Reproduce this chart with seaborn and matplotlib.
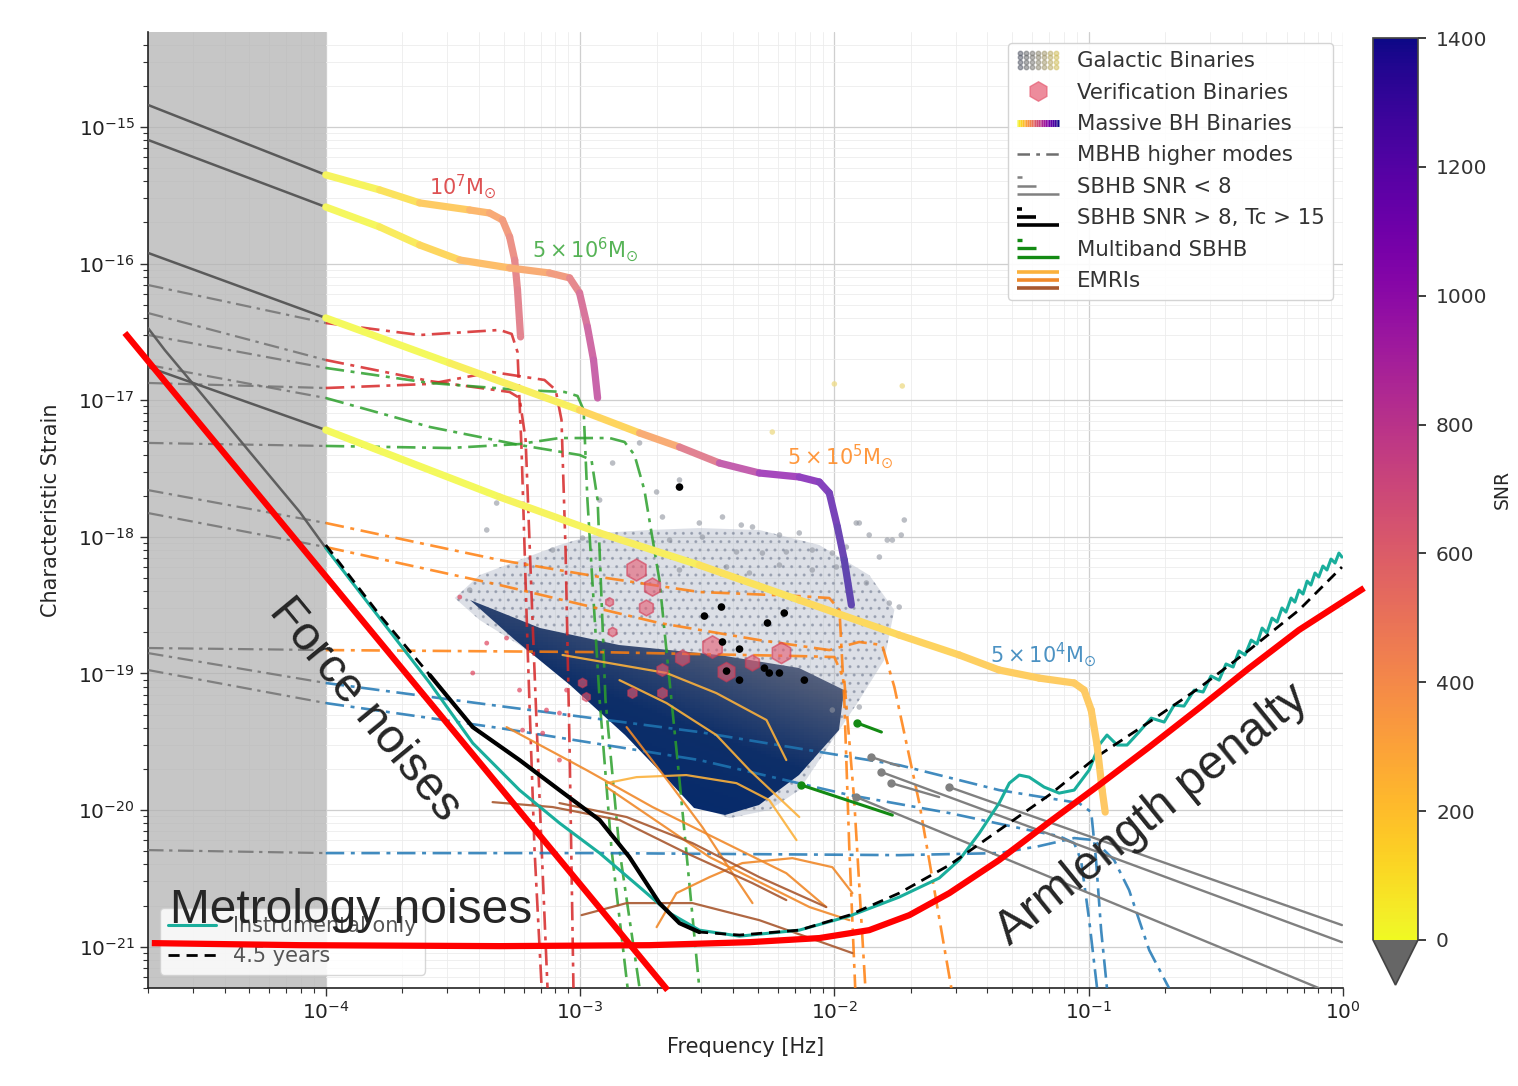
import numpy as np
import matplotlib
matplotlib.use("Agg")
import matplotlib.pyplot as plt
import matplotlib.patches as mpatches
import seaborn as sns
from matplotlib.collections import LineCollection
from matplotlib.colors import Normalize, LinearSegmentedColormap, ListedColormap
from matplotlib.legend_handler import HandlerBase
from matplotlib.lines import Line2D
from matplotlib.cm import ScalarMappable
from matplotlib.ticker import FixedLocator, LogLocator, NullFormatter

# ------------------------------------------------------------------
# Data: log10 frequency [Hz] (lf) and log10 characteristic strain (lh)
# ------------------------------------------------------------------
# Massive BH binaries (first segment lies in the shaded low-frequency band)
mbhb_a_lf = [-4.699, -4.0, -3.788, -3.631, -3.434, -3.356, -3.305, -3.277, -3.257, -3.246, -3.234]
mbhb_a_lh = [-14.839, -15.351, -15.461, -15.556, -15.608, -15.630, -15.681, -15.805, -15.974, -16.193, -16.537]
mbhb_a_snr = [0, 0, 60, 150, 280, 350, 420, 500, 560, 600, 620]

mbhb_b_lf = [-4.699, -4.0, -3.788, -3.631, -3.473, -3.277, -3.120, -3.041, -3.002, -2.971, -2.947, -2.931]
mbhb_b_lh = [-15.095, -15.586, -15.732, -15.864, -15.974, -16.032, -16.069, -16.105, -16.215, -16.464, -16.706, -16.984]
mbhb_b_snr = [0, 0, 40, 100, 220, 330, 420, 520, 650, 750, 800, 830]

mbhb_c_lf = [-4.699, -4.0, -3.513, -3.002, -2.766, -2.609, -2.452, -2.295, -2.138, -2.059, -2.020, -1.988, -1.961, -1.933]
mbhb_c_lh = [-15.922, -16.398, -16.728, -17.072, -17.240, -17.343, -17.460, -17.533, -17.562, -17.599, -17.679, -17.928, -18.170, -18.499]
mbhb_c_snr = [0, 0, 20, 80, 250, 500, 750, 950, 1080, 1150, 1200, 1270, 1320, 1350]

mbhb_d_lf = [-4.699, -4.0, -3.316, -2.923, -2.531, -2.138, -1.745, -1.509, -1.352, -1.195, -1.057, -1.018, -0.990, -0.967, -0.947, -0.935]
mbhb_d_lh = [-16.757, -17.218, -17.709, -17.972, -18.207, -18.463, -18.719, -18.865, -18.975, -19.034, -19.070, -19.122, -19.268, -19.524, -19.854, -20.015]
mbhb_d_snr = [0, 0, 15, 40, 80, 130, 170, 190, 200, 210, 215, 218, 220, 222, 224, 225]

# MBHB higher modes
hm_r1_lf = [-4.699, -4.0, -3.631, -3.316, -3.269, -3.246, -3.230, -3.206, -3.179, -3.151]
hm_r1_lh = [-16.157, -16.435, -16.523, -16.486, -16.515, -16.647, -17.365, -18.829, -20.293, -21.303]
hm_r2_lf = [-4.699, -4.0, -3.591, -3.277, -3.238, -3.214, -3.187, -3.159, -3.128]
hm_r2_lh = [-16.362, -16.706, -16.860, -16.940, -16.984, -17.291, -18.609, -19.927, -21.303]
hm_r3_lf = [-4.699, -4.0, -3.591, -3.344, -3.140, -3.096, -3.073, -3.057, -3.041, -3.026]
hm_r3_lh = [-16.874, -16.911, -16.881, -16.794, -16.852, -16.925, -17.145, -18.097, -19.561, -21.303]
hm_g1_lf = [-4.699, -4.0, -3.591, -3.238, -3.061, -3.010, -2.986, -2.971, -2.923, -2.876, -2.813]
hm_g1_lh = [-16.523, -16.764, -16.874, -16.925, -16.940, -16.969, -17.072, -17.731, -19.195, -20.293, -21.303]
hm_g2_lf = [-4.699, -4.0, -3.591, -3.238, -3.002, -2.955, -2.931, -2.900, -2.845, -2.766]
hm_g2_lh = [-16.742, -16.984, -17.196, -17.328, -17.401, -17.438, -17.731, -19.195, -20.293, -21.303]
hm_g3_lf = [-4.699, -4.0, -3.513, -3.238, -3.081, -2.884, -2.825, -2.786, -2.747, -2.688, -2.609, -2.531]
hm_g3_lh = [-17.313, -17.335, -17.350, -17.321, -17.277, -17.277, -17.306, -17.401, -17.658, -18.316, -19.781, -21.303]
hm_o1_lf = [-4.699, -4.0, -3.316, -2.923, -2.531, -2.138, -2.020, -1.980, -1.961, -1.941, -1.918]
hm_o1_lh = [-17.658, -17.899, -18.170, -18.294, -18.404, -18.434, -18.448, -18.536, -19.195, -20.293, -21.303]
hm_o2_lf = [-4.699, -4.0, -3.316, -2.688, -2.295, -2.020, -1.902, -1.812, -1.764, -1.666, -1.540]
hm_o2_lh = [-17.826, -18.075, -18.353, -18.631, -18.756, -18.829, -18.770, -18.792, -19.100, -19.949, -21.303]
hm_o3_lf = [-4.699, -4.0, -2.923, -2.138, -2.000, -1.961, -1.922, -1.878]
hm_o3_lh = [-18.814, -18.829, -18.844, -18.873, -18.880, -19.049, -19.927, -21.303]
hm_b1_lf = [-4.699, -4.0, -3.316, -2.531, -1.745, -1.352, -1.038, -0.990, -0.971, -0.951, -0.928]
hm_b1_lh = [-18.851, -19.070, -19.239, -19.429, -19.671, -19.854, -19.949, -20.015, -20.366, -20.879, -21.303]
hm_b2_lf = [-4.699, -4.0, -3.316, -2.531, -1.941, -1.548, -1.234, -1.116, -1.057, -1.030, -0.998, -0.967]
hm_b2_lh = [-18.975, -19.217, -19.400, -19.634, -19.890, -20.022, -20.147, -20.191, -20.242, -20.366, -20.806, -21.303]
hm_b3_lf = [-4.699, -4.0, -2.923, -1.745, -1.352, -1.195, -1.057, -0.979, -0.900, -0.841, -0.762, -0.684]
hm_b3_lh = [-20.293, -20.315, -20.315, -20.330, -20.315, -20.264, -20.205, -20.220, -20.366, -20.586, -21.025, -21.303]

# Sensitivity: instrument only, and with the 4.5-year galactic foreground
sens_inst_lf = [-4.699, -4.633, -4.495, -4.299, -4.102, -4.0, -3.788, -3.591, -3.422, -3.238, -3.081, -2.923,
                -2.766, -2.648, -2.531, -2.373, -2.138, -1.941, -1.745, -1.588, -1.509, -1.430, -1.352, -1.312,
                -1.273, -1.234, -1.175, -1.116, -1.057, -0.998, -0.959, -0.928, -0.888, -0.849, -0.802,
                -0.754, -0.703, -0.664, -0.625, -0.585, -0.550, -0.519, -0.487, -0.460, -0.432, -0.409,
                -0.385, -0.361, -0.338, -0.318, -0.299, -0.279, -0.259, -0.240, -0.224, -0.204, -0.189,
                -0.173, -0.157, -0.141, -0.126, -0.110, -0.095, -0.079, -0.063, -0.047, -0.031, -0.016, -0.004]
sens_inst_lh = [-16.472, -16.633, -16.940, -17.379, -17.819, -18.082, -18.595, -19.070, -19.510, -19.854,
                -20.095, -20.315, -20.564, -20.754, -20.879, -20.923, -20.879, -20.776, -20.637, -20.498,
                -20.366, -20.169, -19.949, -19.803, -19.744, -19.759, -19.832, -19.876, -19.854, -19.707,
                -19.524, -19.451, -19.524, -19.524, -19.429, -19.327, -19.356, -19.232, -19.239, -19.122,
                -19.136, -19.019, -19.049, -18.931, -18.953, -18.836, -18.865, -18.756, -18.785, -18.668,
                -18.704, -18.595, -18.624, -18.521, -18.551, -18.448, -18.478, -18.390, -18.419, -18.324,
                -18.353, -18.265, -18.294, -18.214, -18.243, -18.163, -18.192, -18.119, -18.148]
sens_full_lf = [-4.699, -4.633, -4.495, -4.299, -4.102, -4.0, -3.788, -3.591, -3.422, -3.238, -3.081, -2.923,
                -2.806, -2.688, -2.609, -2.531, -2.373, -2.138, -1.941, -1.745, -1.548, -1.352, -1.155,
                -0.959, -0.762, -0.566, -0.369, -0.173, -0.004]
sens_full_lh = [-16.472, -16.633, -16.940, -17.379, -17.819, -18.060, -18.573, -19.012, -19.393, -19.634,
                -19.854, -20.073, -20.344, -20.681, -20.828, -20.893, -20.915, -20.879, -20.769, -20.608,
                -20.403, -20.147, -19.890, -19.598, -19.356, -19.107, -18.829, -18.536, -18.221]

# Galactic binaries: outer envelope, dense core and sparse outliers
gb_halo_lf = [-3.493, -3.395, -3.238, -3.081, -2.923, -2.727, -2.531, -2.295, -2.059, -1.863, -1.764, -1.804,
              -1.902, -2.020, -2.138, -2.256, -2.413, -2.550, -2.668, -2.845, -3.041, -3.238, -3.395]
gb_halo_lh = [-18.448, -18.280, -18.170, -18.060, -17.972, -17.950, -17.936, -17.950, -18.060, -18.280,
              -18.536, -18.902, -19.195, -19.524, -19.854, -20.000, -20.059, -19.964, -19.707, -19.378,
              -19.049, -18.792, -18.609]
gb_core_lf = [-3.434, -3.159, -2.845, -2.452, -2.138, -1.961, -1.980, -2.138, -2.295, -2.432, -2.550, -2.648,
              -2.825, -3.041, -3.257]
gb_core_lh = [-18.463, -18.668, -18.792, -18.865, -18.961, -19.122, -19.415, -19.744, -19.964, -20.037,
              -19.986, -19.795, -19.451, -19.085, -18.756]
gb_pts_lf = [-2.872, -2.609, -2.699, -2.676, -2.531, -2.440, -2.366, -2.322, -2.519, -2.216, -2.138, -1.914,
             -1.863, -1.772, -1.737, -2.385, -2.283, -2.189, -2.087, -2.008, -1.953, -1.823, -2.648, -2.609,
             -2.542, -2.424, -2.334, -2.216, -2.087, -1.992, -1.784, -1.745, -2.766, -3.328, -3.367, -3.108,
             -2.990, -1.902, -1.792, -1.874, -1.902, -2.008, -1.725, -3.434, -2.923]
gb_pts_lh = [-17.460, -17.584, -17.672, -17.855, -17.899, -17.855, -17.914, -17.928, -18.002, -17.987,
             -17.972, -17.899, -17.987, -18.024, -17.987, -18.111, -18.119, -18.111, -18.097, -18.119,
             -18.075, -18.148, -18.024, -18.243, -18.192, -18.221, -18.265, -18.207, -18.243, -18.221,
             -18.485, -18.514, -17.313, -17.753, -17.950, -18.097, -18.009, -17.899, -18.024, -18.338,
             -19.246, -19.268, -17.877, -18.390, -17.731]
gb_bright_lf = [-2.244, -2.000, -1.733]
gb_bright_lh = [-17.233, -16.881, -16.896]

# Verification binaries (hexagons) and faint verification binaries
vb_lf = [-2.778, -2.715, -2.739, -2.479, -2.424, -2.322, -2.208, -2.597, -2.676, -2.676, -2.794, -2.872,
         -2.884, -2.990, -2.975]
vb_lh = [-18.243, -18.368, -18.521, -18.807, -18.990, -18.924, -18.851, -18.887, -18.975, -19.144,
         -19.144, -18.697, -18.478, -19.070, -19.173]
vb_size = [250, 170, 130, 260, 190, 130, 230, 130, 80, 60, 55, 45, 40, 45, 40]
vb_faint_lf = [-3.473, -3.367, -3.289, -3.422, -3.238, -3.081, -3.081, -3.132, -3.147, -3.053, -3.226]
vb_faint_lh = [-18.441, -18.778, -18.741, -18.997, -19.122, -19.290, -19.634, -19.268, -19.437, -19.122, -19.415]

# Stellar-mass BH binaries with SNR > 8 (points)
sbhb_hi_lf = [-2.609, -2.444, -2.511, -2.197, -2.263, -2.440, -2.373, -2.424, -2.373, -2.275, -2.256, -2.216, -2.118]
sbhb_hi_lh = [-17.636, -18.514, -18.580, -18.558, -18.631, -18.770, -18.822, -18.983, -19.049, -18.961, -18.997, -18.997, -19.049]

# SBHB with SNR < 8 (start, end) and multiband SBHB (start, end)
sbhb_lo_lf = [[-1.855, -1.745], [-1.815, -0.004], [-1.776, -1.588], [-1.548, -0.004], [-1.914, -0.095]]
sbhb_lo_lh = [[-19.612, -19.678], [-19.722, -20.967], [-19.803, -19.905], [-19.832, -20.842], [-19.905, -21.303]]
sbhb_mb_lf = [[-1.910, -1.815], [-2.130, -1.772]]
sbhb_mb_lh = [[-19.363, -19.429], [-19.817, -20.037]]

# EMRIs
emri_light_lf = [[-3.069, -2.660, -2.464, -2.267, -2.189],
                 [-2.845, -2.660, -2.464, -2.334, -2.138],
                 [-2.896, -2.778, -2.582, -2.385, -2.256, -2.149]]
emri_light_lh = [[-18.865, -18.997, -19.144, -19.341, -19.634],
                 [-19.049, -19.217, -19.451, -19.707, -20.051],
                 [-19.803, -19.759, -19.744, -19.803, -19.927, -20.220]]
emri_mid_lf = [[-3.289, -2.975, -2.715, -2.452, -2.189, -2.032],
               [-2.817, -2.648, -2.519, -2.401, -2.322],
               [-2.699, -2.621, -2.491, -2.362, -2.165, -2.008, -1.929],
               [-2.896, -2.491, -2.098, -1.941]]
emri_mid_lh = [[-19.393, -19.707, -19.978, -20.220, -20.462, -20.710],
               [-19.393, -19.803, -20.125, -20.462, -20.681],
               [-20.857, -20.608, -20.491, -20.388, -20.352, -20.418, -20.608],
               [-19.832, -20.344, -20.710, -20.806]]
emri_dark_lf = [[-3.344, -3.108, -2.845, -2.582, -2.322, -2.189],
                [-2.994, -2.817, -2.558, -2.295, -1.929],
                [-3.081, -2.817, -2.558, -2.295, -2.032]]
emri_dark_lh = [[-19.942, -19.978, -20.073, -20.315, -20.535, -20.659],
                [-20.769, -20.681, -20.681, -20.806, -21.047],
                [-19.949, -20.051, -20.242, -20.491, -20.710]]

# Noise budget sketch
force_lf = [-4.790, -2.656]
force_lh = [-16.508, -21.318]
metro_lf = [-4.684, -4.102, -3.316, -2.727, -2.334, -2.059, -1.863, -1.705, -1.548, -1.352, -1.155,
            -0.959, -0.762, -0.566, -0.369, -0.173, 0.083]
metro_lh = [-20.974, -20.989, -20.996, -20.989, -20.967, -20.937, -20.879, -20.769, -20.608, -20.366,
            -20.088, -19.817, -19.539, -19.254, -18.961, -18.682, -18.375]

mass_labels = [r"$10^7\mathrm{M}_{\odot}$", r"$5\times10^6\mathrm{M}_{\odot}$",
               r"$5\times10^5\mathrm{M}_{\odot}$", r"$5\times10^4\mathrm{M}_{\odot}$"]
mass_label_lf = [-3.462, -2.978, -1.977, -1.179]
mass_label_lh = [-15.439, -15.900, -17.416, -18.865]

legend_labels = ["Galactic Binaries", "Verification Binaries", "Massive BH Binaries", "MBHB higher modes",
                 "SBHB SNR < 8", "SBHB SNR > 8, Tc > 15", "Multiband SBHB", "EMRIs"]
snr_ticks = [0, 200, 400, 600, 800, 1000, 1200, 1400]
freq_decades = [-4, -3, -2, -1, 0]
strain_decades = [-21, -20, -19, -18, -17, -16, -15]


def L(a):
    return 10.0 ** np.asarray(a, dtype=float)


# ------------------------------------------------------------------
sns.set_theme(style="ticks")
plt.rcParams["font.family"] = ["DejaVu Sans"]

fig = plt.figure(figsize=(15.18, 10.86), dpi=100)
fig.patch.set_facecolor("white")
ax = fig.add_axes([0.0975, 0.0902, 0.7872, 0.8803])
ax.set_xscale("log")
ax.set_yscale("log")
ax.set_xlim(2e-5, 1.0)
ax.set_ylim(4.98e-22, 4.95e-15)
ax.xaxis.set_major_locator(FixedLocator(L(freq_decades)))
ax.yaxis.set_major_locator(FixedLocator(L(strain_decades)))
ax.xaxis.set_minor_locator(LogLocator(base=10, subs=np.arange(2, 10), numticks=20))
ax.yaxis.set_minor_locator(LogLocator(base=10, subs=np.arange(2, 10), numticks=20))
ax.xaxis.set_minor_formatter(NullFormatter())
ax.yaxis.set_minor_formatter(NullFormatter())
ax.set_axisbelow(True)
ax.grid(True, which="major", color="#cfcfcf", lw=0.9)
ax.grid(True, which="minor", color="#ececec", lw=0.6)
ax.axvspan(2e-5, 1e-4, color="#b4b4b4", alpha=0.75, zorder=1, lw=0)

GRAY = "#6e6e6e"

# Galactic binaries
halo = mpatches.Polygon(np.column_stack([L(gb_halo_lf), L(gb_halo_lh)]), closed=True,
                        facecolor=(0.70, 0.73, 0.79, 0.45), edgecolor=(0.55, 0.58, 0.65, 0.7),
                        hatch="..", lw=0, zorder=2)
ax.add_patch(halo)
core = mpatches.Polygon(np.column_stack([L(gb_core_lf), L(gb_core_lh)]), closed=True,
                        facecolor="none", edgecolor="none", zorder=2.1)
ax.add_patch(core)
gx = np.linspace(min(gb_core_lf), max(gb_core_lf), 80)
gy = np.linspace(min(gb_core_lh), max(gb_core_lh), 80)
GX, GY = np.meshgrid(gx, gy)
shade = 0.5 * (GX - gx[0]) / (gx[-1] - gx[0]) + 0.75 * (GY - gy[0]) / (gy[-1] - gy[0])
cloud_cmap = LinearSegmentedColormap.from_list("cloud", ["#062a6b", "#0d2e68", "#4b5877", "#8189a0"])
mesh = ax.pcolormesh(L(gx), L(gy), shade, cmap=cloud_cmap, vmin=0.3, vmax=1.2,
                     shading="auto", zorder=2.1, rasterized=True)
mesh.set_clip_path(core)
sns.scatterplot(x=L(gb_pts_lf), y=L(gb_pts_lh), ax=ax, color="#8e939e", s=16, alpha=0.6,
                edgecolor="none", zorder=2.2)
sns.scatterplot(x=L(gb_bright_lf), y=L(gb_bright_lh), ax=ax, color="#eedc8c", s=16, alpha=0.8,
                edgecolor="none", zorder=2.2)

# Higher modes
modes = [(hm_r1_lf, hm_r1_lh, "#d62728"), (hm_r2_lf, hm_r2_lh, "#d62728"), (hm_r3_lf, hm_r3_lh, "#d62728"),
         (hm_g1_lf, hm_g1_lh, "#2ca02c"), (hm_g2_lf, hm_g2_lh, "#2ca02c"), (hm_g3_lf, hm_g3_lh, "#2ca02c"),
         (hm_o1_lf, hm_o1_lh, "#ff7f0e"), (hm_o2_lf, hm_o2_lh, "#ff7f0e"), (hm_o3_lf, hm_o3_lh, "#ff7f0e"),
         (hm_b1_lf, hm_b1_lh, "#1f77b4"), (hm_b2_lf, hm_b2_lh, "#1f77b4"), (hm_b3_lf, hm_b3_lh, "#1f77b4")]
DASHDOT = (0, (7, 2.5, 1.5, 2.5))
for lf, lh, col in modes:
    f, h = L(lf), L(lh)
    sns.lineplot(x=f[:2], y=h[:2], ax=ax, color=GRAY, linestyle=DASHDOT, linewidth=1.6,
                 estimator=None, sort=False, zorder=3, alpha=0.8)
    sns.lineplot(x=f[1:], y=h[1:], ax=ax, color=col, linestyle=DASHDOT, linewidth=1.9,
                 estimator=None, sort=False, zorder=3, alpha=0.85)

# EMRIs
for group, col in ((zip(emri_light_lf, emri_light_lh), "#fbb13c"),
                   (zip(emri_mid_lf, emri_mid_lh), "#f0892a"),
                   (zip(emri_dark_lf, emri_dark_lh), "#a8582f")):
    for lf, lh in group:
        sns.lineplot(x=L(lf), y=L(lh), ax=ax, color=col, linewidth=1.6, estimator=None,
                     sort=False, zorder=3.2, alpha=0.9)

# SBHB tracks
for lf, lh in zip(sbhb_lo_lf, sbhb_lo_lh):
    sns.lineplot(x=L(lf), y=L(lh), ax=ax, color="#808080", linewidth=1.7, estimator=None,
                 sort=False, zorder=3.3)
    ax.plot(L(lf[0]), L(lh[0]), "o", color="#808080", ms=5, zorder=3.3)
for lf, lh in zip(sbhb_mb_lf, sbhb_mb_lh):
    sns.lineplot(x=L(lf), y=L(lh), ax=ax, color="#138a13", linewidth=2.2, estimator=None,
                 sort=False, zorder=3.3)
    ax.plot(L(lf[0]), L(lh[0]), "o", color="#138a13", ms=5, zorder=3.3)

# Sensitivity curves
TEAL = "#1aae9c"
fi, hi = L(sens_inst_lf), L(sens_inst_lh)
ff, hf = L(sens_full_lf), L(sens_full_lh)
sns.lineplot(x=fi[:6], y=hi[:6], ax=ax, color="#5f5f5f", linewidth=1.8, estimator=None, sort=False, zorder=4)
sns.lineplot(x=fi[5:], y=hi[5:], ax=ax, color=TEAL, linewidth=2.2, estimator=None, sort=False, zorder=4)
sns.lineplot(x=ff[5:], y=hf[5:], ax=ax, color="black", linewidth=2.0, linestyle=(0, (4, 2.5)),
             estimator=None, sort=False, zorder=4.1)
fg = (ff >= 10 ** -3.6) & (ff <= 10 ** -2.52)
sns.lineplot(x=ff[fg], y=hf[fg], ax=ax, color="black", linewidth=3.0, estimator=None, sort=False, zorder=4.1)

# Massive BH binary tracks coloured by accumulated SNR (pale tint of plasma_r)
cmap = plt.get_cmap("plasma_r").with_extremes(under="#666666")
norm = Normalize(0, 1400)
base = cmap(np.linspace(0, 1, 256))[:, :3]
tint = ListedColormap(0.74 * base + 0.26)
for lf, lh, snr in ((mbhb_a_lf, mbhb_a_lh, mbhb_a_snr), (mbhb_b_lf, mbhb_b_lh, mbhb_b_snr),
                    (mbhb_c_lf, mbhb_c_lh, mbhb_c_snr), (mbhb_d_lf, mbhb_d_lh, mbhb_d_snr)):
    f, h, s = L(lf), L(lh), np.asarray(snr, float)
    sns.lineplot(x=f[:2], y=h[:2], ax=ax, color="#5a5a5a", linewidth=1.8, estimator=None, sort=False, zorder=4.5)
    pts = np.column_stack([f[1:], h[1:]])
    segs = np.stack([pts[:-1], pts[1:]], axis=1)
    lc = LineCollection(segs, cmap=tint, norm=norm, linewidths=5.2,
                        capstyle="round", joinstyle="round", zorder=5)
    lc.set_array(0.5 * (s[1:-1] + s[2:]))
    ax.add_collection(lc)

# Verification binaries and resolved SBHBs
sns.scatterplot(x=L(vb_faint_lf), y=L(vb_faint_lh), ax=ax, color="#e0455e", s=12, alpha=0.7,
                edgecolor="none", zorder=5.2)
ax.scatter(L(vb_lf), L(vb_lh), s=vb_size, marker="h", facecolor="#e65c72", edgecolor="#d23a55",
           linewidths=1.2, alpha=0.6, zorder=5.3)
sns.scatterplot(x=L(sbhb_hi_lf), y=L(sbhb_hi_lh), ax=ax, color="black", s=30, edgecolor="none", zorder=5.5)

# Mass labels
for txt, lf, lh, col in zip(mass_labels, mass_label_lf, mass_label_lh,
                            ["#d62728", "#2ca02c", "#ff7f0e", "#1f77b4"]):
    ax.text(L(lf), L(lh), txt, color=col, alpha=0.8, fontsize=15, ha="center", va="center", zorder=6)

# Axes cosmetics
ax.set_xlabel("Frequency [Hz]", fontsize=15, labelpad=10)
ax.set_ylabel("Characteristic Strain", fontsize=15, labelpad=12)
ax.tick_params(axis="both", which="major", labelsize=14.5, length=6, width=1, direction="out",
               color="#333333", labelcolor="#222222")
ax.tick_params(axis="both", which="minor", length=3.5, width=0.8, direction="out", color="#333333")
for side in ("top", "right"):
    ax.spines[side].set_visible(False)
for side in ("left", "bottom"):
    ax.spines[side].set_color("#222222")
    ax.spines[side].set_linewidth(1.2)


# ------------------------------------------------------------------
# Legends
class GradientHandle:
    pass


class DotGridHandle:
    pass


class StackHandle:
    def __init__(self, colors, fracs, lw):
        self.colors, self.fracs, self.lw = colors, fracs, lw


class HandlerGradient(HandlerBase):
    def create_artists(self, legend, orig_handle, xdescent, ydescent, width, height, fontsize, trans):
        xs = np.linspace(-xdescent, width - xdescent, 25)
        y = height / 2 - ydescent
        segs = [[(xs[i], y), (xs[i + 1], y)] for i in range(len(xs) - 1)]
        lc = LineCollection(segs, cmap="plasma_r", norm=Normalize(0, 1), linewidths=5, transform=trans)
        lc.set_array(np.linspace(0, 1, len(segs)))
        return [lc]


class HandlerDotGrid(HandlerBase):
    def create_artists(self, legend, orig_handle, xdescent, ydescent, width, height, fontsize, trans):
        cm = plt.get_cmap("cividis")
        arts = []
        for i in range(7):
            for j in range(4):
                x = -xdescent + width * (i + 0.5) / 7
                y = -ydescent + height * (j + 0.1) / 3.2
                arts.append(Line2D([x], [y], marker="o", ms=3.2, ls="", color=cm(0.35 + 0.08 * i),
                                   alpha=0.55, transform=trans))
        return arts


class HandlerStack(HandlerBase):
    def create_artists(self, legend, orig_handle, xdescent, ydescent, width, height, fontsize, trans):
        arts = []
        n = len(orig_handle.colors)
        for k, (c, fr) in enumerate(zip(orig_handle.colors, orig_handle.fracs)):
            y = -ydescent + height * (1.05 - 1.1 * k / (n - 1))
            x0 = -xdescent
            arts.append(Line2D([x0, x0 + width * fr], [y, y], color=c, lw=orig_handle.lw,
                               solid_capstyle="butt", transform=trans))
        return arts


handles = [DotGridHandle(),
           Line2D([], [], marker="h", ls="", ms=14, markerfacecolor="#e65c72", markeredgecolor="#e65c72",
                  alpha=0.7),
           GradientHandle(),
           Line2D([], [], color=GRAY, ls=(0, (5, 2.5, 1.5, 2.5)), lw=1.8),
           StackHandle(["#808080"] * 3, [0.12, 0.45, 1.0], 1.8),
           StackHandle(["black"] * 3, [0.12, 0.45, 1.0], 2.6),
           StackHandle(["#138a13"] * 3, [0.12, 0.45, 1.0], 2.4),
           StackHandle(["#fbb13c", "#f0892a", "#a8582f"], [1.0, 1.0, 1.0], 2.6)]
leg = ax.legend(handles, legend_labels, loc="upper right", bbox_to_anchor=(0.992, 0.989),
                borderaxespad=0, fontsize=15.3, handlelength=2.0, handletextpad=0.85, labelspacing=0.54,
                frameon=True, fancybox=True, framealpha=0.9, edgecolor="#d0d0d0",
                handler_map={GradientHandle: HandlerGradient(), DotGridHandle: HandlerDotGrid(),
                             StackHandle: HandlerStack()})
leg.set_zorder(20)
for t in leg.get_texts():
    t.set_color("#333333")
ax.add_artist(leg)

leg2 = ax.legend([Line2D([], [], color=TEAL, lw=2.2), Line2D([], [], color="black", lw=2, ls=(0, (4, 2.5)))],
                 ["Instrumental only", "4.5 years"], loc="lower left", bbox_to_anchor=(0.010, 0.014),
                 borderaxespad=0, fontsize=15, handlelength=2.3, frameon=True, fancybox=True,
                 framealpha=0.85, edgecolor="#d0d0d0")
leg2.set_zorder(20)
for t in leg2.get_texts():
    t.set_color("#555555")

# ------------------------------------------------------------------
# Colour bar
cax = fig.add_axes([0.9045, 0.0930, 0.0296, 0.8720])
sm = ScalarMappable(norm=norm, cmap=cmap)
cb = fig.colorbar(sm, cax=cax, extend="min", ticks=snr_ticks)
cb.set_label("SNR", fontsize=13.5, labelpad=4)
cb.ax.tick_params(labelsize=14.5, length=6, pad=7, labelcolor="#333333")
cb.outline.set_edgecolor("#444444")

# ------------------------------------------------------------------
# Noise budget sketch on top
ax.plot(L(force_lf), L(force_lh), color="red", lw=4.5, clip_on=False, zorder=30, solid_capstyle="butt")
ax.plot(L(metro_lf), L(metro_lh), color="red", lw=4.5, clip_on=False, zorder=30, solid_capstyle="butt")
fig.text(365 / 1518, 1 - 710 / 1086, "Force noises", fontsize=34.5, family=["Liberation Sans"],
         rotation=-50.5, rotation_mode="anchor", ha="center", va="center", zorder=40)
fig.text(170 / 1518, 1 - 923 / 1086, "Metrology noises", fontsize=34.5, family=["Liberation Sans"],
         ha="left", va="baseline", zorder=40)
fig.text(1152 / 1518, 1 - 815 / 1086, "Armlength penalty", fontsize=34.5, family=["Liberation Sans"],
         rotation=39, rotation_mode="anchor", ha="center", va="center", zorder=40)

fig.savefig("out.png", dpi=100, facecolor="white")
